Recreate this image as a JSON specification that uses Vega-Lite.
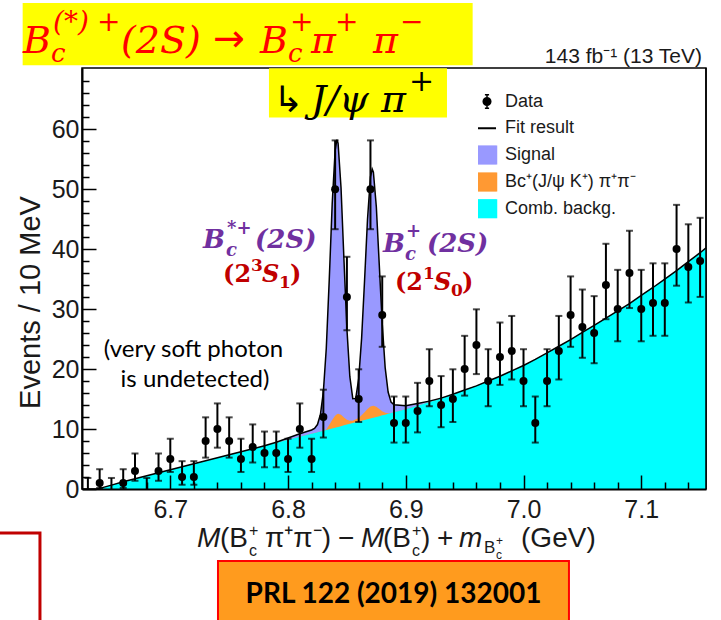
{
  "$schema": "https://vega.github.io/schema/vega-lite/v6.json",
  "width": 624,
  "height": 421,
  "autosize": "none",
  "padding": {"left": 82, "top": 68, "right": 15, "bottom": 131},
  "background": "white",
  "config": {"view": {"stroke": "black", "strokeWidth": 1.5}},
  "resolve": {"axis": {"x": "independent", "y": "independent"}},
  "datasets": {
    "pts": [
      {"m": 6.63, "n": 0, "lo": 0, "hi": 1.84},
      {"m": 6.64, "n": 1, "lo": 0.17, "hi": 3.30},
      {"m": 6.65, "n": 0, "lo": 0, "hi": 1.84},
      {"m": 6.66, "n": 1, "lo": 0.17, "hi": 3.30},
      {"m": 6.67, "n": 3, "lo": 1.37, "hi": 5.92},
      {"m": 6.68, "n": 0, "lo": 0, "hi": 1.84},
      {"m": 6.69, "n": 3, "lo": 1.37, "hi": 5.92},
      {"m": 6.70, "n": 5, "lo": 2.84, "hi": 8.38},
      {"m": 6.71, "n": 2, "lo": 0.71, "hi": 4.64},
      {"m": 6.72, "n": 2, "lo": 0.71, "hi": 4.64},
      {"m": 6.73, "n": 8, "lo": 5.23, "hi": 11.95},
      {"m": 6.74, "n": 10, "lo": 6.89, "hi": 14.27},
      {"m": 6.75, "n": 8, "lo": 5.23, "hi": 11.95},
      {"m": 6.76, "n": 5, "lo": 2.84, "hi": 8.38},
      {"m": 6.77, "n": 7, "lo": 4.42, "hi": 10.77},
      {"m": 6.78, "n": 6, "lo": 3.62, "hi": 9.58},
      {"m": 6.79, "n": 6, "lo": 3.62, "hi": 9.58},
      {"m": 6.80, "n": 5, "lo": 2.84, "hi": 8.38},
      {"m": 6.81, "n": 10, "lo": 6.89, "hi": 14.27},
      {"m": 6.82, "n": 5, "lo": 2.84, "hi": 8.38},
      {"m": 6.83, "n": 12, "lo": 8.58, "hi": 16.56},
      {"m": 6.84, "n": 50, "lo": 43.32, "hi": 58.13},
      {"m": 6.85, "n": 32, "lo": 26.47, "hi": 38.72},
      {"m": 6.86, "n": 15, "lo": 11.17, "hi": 19.96},
      {"m": 6.87, "n": 50, "lo": 43.32, "hi": 58.13},
      {"m": 6.88, "n": 29, "lo": 23.71, "hi": 35.45},
      {"m": 6.89, "n": 11, "lo": 7.74, "hi": 15.42},
      {"m": 6.90, "n": 11, "lo": 7.74, "hi": 15.42},
      {"m": 6.91, "n": 13, "lo": 9.44, "hi": 17.70},
      {"m": 6.92, "n": 18, "lo": 13.80, "hi": 23.31},
      {"m": 6.93, "n": 14, "lo": 10.30, "hi": 18.83},
      {"m": 6.94, "n": 15, "lo": 11.17, "hi": 19.96},
      {"m": 6.95, "n": 20, "lo": 15.57, "hi": 25.54},
      {"m": 6.96, "n": 24, "lo": 19.16, "hi": 29.96},
      {"m": 6.97, "n": 18, "lo": 13.80, "hi": 23.31},
      {"m": 6.98, "n": 22, "lo": 17.36, "hi": 27.76},
      {"m": 6.99, "n": 23, "lo": 18.26, "hi": 28.86},
      {"m": 7.00, "n": 18, "lo": 13.80, "hi": 23.31},
      {"m": 7.01, "n": 11, "lo": 7.74, "hi": 15.42},
      {"m": 7.02, "n": 18, "lo": 13.80, "hi": 23.31},
      {"m": 7.03, "n": 23, "lo": 18.26, "hi": 28.86},
      {"m": 7.04, "n": 29, "lo": 23.71, "hi": 35.45},
      {"m": 7.05, "n": 27, "lo": 21.88, "hi": 33.26},
      {"m": 7.06, "n": 26, "lo": 20.97, "hi": 32.16},
      {"m": 7.07, "n": 34, "lo": 28.31, "hi": 40.89},
      {"m": 7.08, "n": 30, "lo": 24.63, "hi": 36.54},
      {"m": 7.09, "n": 36, "lo": 30.17, "hi": 43.06},
      {"m": 7.10, "n": 30, "lo": 24.63, "hi": 36.54},
      {"m": 7.11, "n": 31, "lo": 25.55, "hi": 37.63},
      {"m": 7.12, "n": 31, "lo": 25.55, "hi": 37.63},
      {"m": 7.13, "n": 40, "lo": 33.90, "hi": 47.38},
      {"m": 7.14, "n": 37, "lo": 31.10, "hi": 44.14},
      {"m": 7.15, "n": 38, "lo": 32.03, "hi": 45.22}
    ],
    "fit": [
      {"m": 6.638, "bkg": 0, "bo": 0, "tot": 0},
      {"m": 6.64, "bkg": 0.1, "bo": 0.1, "tot": 0.1},
      {"m": 6.65, "bkg": 0.65, "bo": 0.65, "tot": 0.65},
      {"m": 6.66, "bkg": 1.2, "bo": 1.2, "tot": 1.2},
      {"m": 6.67, "bkg": 1.7, "bo": 1.7, "tot": 1.7},
      {"m": 6.68, "bkg": 2.2, "bo": 2.2, "tot": 2.2},
      {"m": 6.69, "bkg": 2.7, "bo": 2.7, "tot": 2.7},
      {"m": 6.70, "bkg": 3.2, "bo": 3.2, "tot": 3.2},
      {"m": 6.71, "bkg": 3.7, "bo": 3.7, "tot": 3.7},
      {"m": 6.72, "bkg": 4.2, "bo": 4.2, "tot": 4.2},
      {"m": 6.73, "bkg": 4.7, "bo": 4.7, "tot": 4.7},
      {"m": 6.74, "bkg": 5.2, "bo": 5.2, "tot": 5.2},
      {"m": 6.75, "bkg": 5.7, "bo": 5.7, "tot": 5.7},
      {"m": 6.76, "bkg": 6.2, "bo": 6.2, "tot": 6.2},
      {"m": 6.77, "bkg": 6.7, "bo": 6.7, "tot": 6.7},
      {"m": 6.78, "bkg": 7.2, "bo": 7.2, "tot": 7.2},
      {"m": 6.79, "bkg": 7.7, "bo": 7.7, "tot": 7.8},
      {"m": 6.80, "bkg": 8.2, "bo": 8.2, "tot": 8.5},
      {"m": 6.81, "bkg": 8.7, "bo": 8.7, "tot": 9.2},
      {"m": 6.8200, "bkg": 9.20, "bo": 9.20, "tot": 9.84},
      {"m": 6.8225, "bkg": 9.33, "bo": 9.33, "tot": 10.11},
      {"m": 6.8250, "bkg": 9.46, "bo": 9.46, "tot": 10.75},
      {"m": 6.8275, "bkg": 9.58, "bo": 9.58, "tot": 12.42},
      {"m": 6.8300, "bkg": 9.71, "bo": 9.71, "tot": 16.2},
      {"m": 6.8325, "bkg": 9.84, "bo": 9.94, "tot": 23.51},
      {"m": 6.8350, "bkg": 9.97, "bo": 10.67, "tot": 34.87},
      {"m": 6.8375, "bkg": 10.10, "bo": 11.50, "tot": 47.5},
      {"m": 6.8400, "bkg": 10.23, "bo": 12.23, "tot": 56.43},
      {"m": 6.8415, "bkg": 10.30, "bo": 12.45, "tot": 58.25},
      {"m": 6.8425, "bkg": 10.35, "bo": 12.55, "tot": 57.65},
      {"m": 6.8450, "bkg": 10.48, "bo": 12.38, "tot": 50.28},
      {"m": 6.8475, "bkg": 10.61, "bo": 11.91, "tot": 38.21},
      {"m": 6.8500, "bkg": 10.74, "bo": 11.54, "tot": 26.7},
      {"m": 6.8525, "bkg": 10.87, "bo": 11.37, "tot": 18.73},
      {"m": 6.8550, "bkg": 11.00, "bo": 11.40, "tot": 15.07},
      {"m": 6.8575, "bkg": 11.12, "bo": 11.62, "tot": 15.11},
      {"m": 6.8600, "bkg": 11.25, "bo": 11.85, "tot": 18.36},
      {"m": 6.8625, "bkg": 11.38, "bo": 12.28, "tot": 25.16},
      {"m": 6.8650, "bkg": 11.51, "bo": 12.81, "tot": 34.77},
      {"m": 6.8675, "bkg": 11.64, "bo": 13.34, "tot": 44.98},
      {"m": 6.8700, "bkg": 11.76, "bo": 13.76, "tot": 52.04},
      {"m": 6.8715, "bkg": 11.84, "bo": 13.84, "tot": 53.34},
      {"m": 6.8725, "bkg": 11.89, "bo": 13.89, "tot": 52.84},
      {"m": 6.8750, "bkg": 12.02, "bo": 13.72, "tot": 47.02},
      {"m": 6.8775, "bkg": 12.15, "bo": 13.35, "tot": 37.33},
      {"m": 6.8800, "bkg": 12.28, "bo": 12.98, "tot": 27.56},
      {"m": 6.8825, "bkg": 12.40, "bo": 12.70, "tot": 20.25},
      {"m": 6.8850, "bkg": 12.53, "bo": 12.63, "tot": 16.17},
      {"m": 6.8875, "bkg": 12.66, "bo": 12.66, "tot": 14.49},
      {"m": 6.8900, "bkg": 12.79, "bo": 12.79, "tot": 14.03},
      {"m": 6.90, "bkg": 13.3, "bo": 13.3, "tot": 13.9},
      {"m": 6.91, "bkg": 13.9, "bo": 13.9, "tot": 14.25},
      {"m": 6.92, "bkg": 14.5, "bo": 14.5, "tot": 14.65},
      {"m": 6.93, "bkg": 15.1, "bo": 15.1, "tot": 15.15},
      {"m": 6.94, "bkg": 15.8, "bo": 15.8, "tot": 15.8},
      {"m": 6.95, "bkg": 16.5, "bo": 16.5, "tot": 16.5},
      {"m": 6.96, "bkg": 17.2, "bo": 17.2, "tot": 17.2},
      {"m": 6.97, "bkg": 18.0, "bo": 18.0, "tot": 18.0},
      {"m": 6.98, "bkg": 18.8, "bo": 18.8, "tot": 18.8},
      {"m": 6.99, "bkg": 19.7, "bo": 19.7, "tot": 19.7},
      {"m": 7.00, "bkg": 20.6, "bo": 20.6, "tot": 20.6},
      {"m": 7.01, "bkg": 21.6, "bo": 21.6, "tot": 21.6},
      {"m": 7.02, "bkg": 22.7, "bo": 22.7, "tot": 22.7},
      {"m": 7.03, "bkg": 23.8, "bo": 23.8, "tot": 23.8},
      {"m": 7.04, "bkg": 24.9, "bo": 24.9, "tot": 24.9},
      {"m": 7.05, "bkg": 26.1, "bo": 26.1, "tot": 26.1},
      {"m": 7.06, "bkg": 27.3, "bo": 27.3, "tot": 27.3},
      {"m": 7.07, "bkg": 28.5, "bo": 28.5, "tot": 28.5},
      {"m": 7.08, "bkg": 29.7, "bo": 29.7, "tot": 29.7},
      {"m": 7.09, "bkg": 30.9, "bo": 30.9, "tot": 30.9},
      {"m": 7.10, "bkg": 32.3, "bo": 32.3, "tot": 32.3},
      {"m": 7.11, "bkg": 33.6, "bo": 33.6, "tot": 33.6},
      {"m": 7.12, "bkg": 35.0, "bo": 35.0, "tot": 35.0},
      {"m": 7.13, "bkg": 36.4, "bo": 36.4, "tot": 36.4},
      {"m": 7.14, "bkg": 37.9, "bo": 37.9, "tot": 37.9},
      {"m": 7.15, "bkg": 39.4, "bo": 39.4, "tot": 39.4},
      {"m": 7.155, "bkg": 40.2, "bo": 40.2, "tot": 40.2}
    ]
  },
  "data": {"values": [{}]},
  "layer": [
    {
      "data": {"name": "fit"},
      "mark": {"type": "area", "color": "#9999ff"},
      "encoding": {
        "x": {
          "field": "m", "type": "quantitative",
          "scale": {"domain": [6.625, 7.155], "nice": false, "zero": false},
          "axis": {
            "orient": "bottom", "offset": 0, "zindex": 1,
            "title": null,
            "values": [6.7, 6.8, 6.9, 7.0, 7.1], "format": ".1f",
            "tickSize": -14, "tickColor": "black", "tickWidth": 1.5,
            "domainColor": "black", "domainWidth": 2,
            "labelFont": "Liberation Sans", "labelFontSize": 25, "labelColor": "#1a1a1a",
            "labelPadding": 22, "labelOverlap": false, "labelFlush": false,
            "grid": false
          }
        },
        "y": {
          "field": "tot", "type": "quantitative",
          "scale": {"domain": [0, 70.2], "nice": false},
          "axis": {
            "orient": "left", "offset": 0, "zindex": 1,
            "values": [0, 10, 20, 30, 40, 50, 60],
            "tickSize": -14, "tickColor": "black", "tickWidth": 1.5,
            "domainColor": "black", "domainWidth": 2,
            "labelFont": "Liberation Sans", "labelFontSize": 25, "labelColor": "#1a1a1a",
            "labelPadding": 17, "labelOverlap": false, "labelFlush": false,
            "grid": false,
            "title": "Events / 10 MeV",
            "titleFont": "Liberation Sans", "titleFontSize": 29, "titleFontWeight": "normal", "titleColor": "#1a1a1a",
            "titleAngle": -90, "titleX": -52, "titleY": 234, "titleAlign": "center", "titleBaseline": "middle"
          }
        },
        "color": {
          "datum": "Signal", "type": "nominal",
          "scale": {
            "domain": ["Data", "Fit result", "Signal", "Bc⁺(J/ψ K⁺) π⁺π⁻", "Comb. backg."],
            "range": ["black", "black", "#9999ff", "#ff9933", "#00ffff"]
          },
          "legend": {
            "orient": "none", "legendX": 396, "legendY": 24, "padding": 0,
            "title": null, "direction": "vertical",
            "labelFont": "Liberation Sans", "labelFontSize": 18, "labelColor": "#1a1a1a", "labelLimit": 300,
            "symbolSize": 361, "rowPadding": 7.8, "clipHeight": 19, "labelOffset": 9,
            "encode": {
              "symbols": {
                "update": {
                  "shape": {"signal": "datum.value === 'Data' ? 'M0,-0.7V0.7M-0.22,-0.7H0.22M-0.22,0.7H0.22M0.4,0A0.4,0.4,0,1,1,-0.4,0A0.4,0.4,0,1,1,0.4,0Z' : datum.value === 'Fit result' ? 'M-0.95,0H0.95' : 'square'"},
                  "fill": {"signal": "datum.value === 'Data' ? 'black' : datum.value === 'Fit result' ? 'transparent' : datum.value === 'Signal' ? '#9999ff' : datum.value === 'Comb. backg.' ? '#00ffff' : '#ff9933'"},
                  "stroke": {"signal": "datum.value === 'Data' || datum.value === 'Fit result' ? 'black' : 'transparent'"},
                  "strokeWidth": {"signal": "datum.value === 'Fit result' ? 2 : 1.5"},
                  "opacity": {"value": 1}, "fillOpacity": {"value": 1}, "strokeOpacity": {"value": 1}
                }
              }
            }
          }
        }
      }
    },
    {
      "data": {"name": "fit"},
      "mark": {"type": "area"},
      "encoding": {
        "x": {
          "field": "m", "type": "quantitative",
          "axis": {
            "orient": "bottom", "offset": 0, "zindex": 1, "title": null,
            "values": [6.64, 6.66, 6.68, 6.72, 6.74, 6.76, 6.78, 6.82, 6.84, 6.86, 6.88, 6.92, 6.94, 6.96, 6.98, 7.02, 7.04, 7.06, 7.08, 7.12, 7.14],
            "labels": false, "domain": false, "grid": false,
            "tickSize": -7, "tickColor": "black", "tickWidth": 1.5
          }
        },
        "y": {
          "field": "bo", "type": "quantitative",
          "axis": {
            "orient": "left", "offset": 0, "zindex": 1, "title": null,
            "values": [2, 4, 6, 8, 12, 14, 16, 18, 22, 24, 26, 28, 32, 34, 36, 38, 42, 44, 46, 48, 52, 54, 56, 58, 62, 64, 66, 68],
            "labels": false, "domain": false, "grid": false,
            "tickSize": -7, "tickColor": "black", "tickWidth": 1.5
          }
        },
        "color": {"datum": "Bc⁺(J/ψ K⁺) π⁺π⁻", "type": "nominal"}
      }
    },
    {
      "data": {"name": "fit"},
      "mark": {"type": "area"},
      "encoding": {
        "x": {"field": "m", "type": "quantitative", "axis": null},
        "y": {"field": "bkg", "type": "quantitative", "axis": null},
        "color": {"datum": "Comb. backg.", "type": "nominal"}
      }
    },
    {
      "data": {"name": "fit"},
      "mark": {"type": "line", "strokeWidth": 1.5},
      "encoding": {
        "x": {"field": "m", "type": "quantitative", "axis": null},
        "y": {"field": "tot", "type": "quantitative", "axis": null},
        "color": {"datum": "Fit result", "type": "nominal"}
      }
    },
    {
      "mark": {"type": "rule", "color": "black", "strokeWidth": 1.5},
      "encoding": {"x": {"datum": 7.155, "axis": null}, "y": {"datum": 0, "axis": null}, "y2": {"datum": 70.2}}
    },
    {
      "data": {"name": "pts"},
      "mark": {"type": "rule", "color": "black", "strokeWidth": 2},
      "encoding": {
        "x": {"field": "m", "type": "quantitative", "axis": null},
        "y": {"field": "lo", "type": "quantitative", "axis": null},
        "y2": {"field": "hi"}
      }
    },
    {
      "data": {"name": "pts"},
      "mark": {"type": "tick", "orient": "horizontal", "color": "black", "size": 7, "thickness": 2},
      "encoding": {
        "x": {"field": "m", "type": "quantitative", "axis": null},
        "y": {"field": "hi", "type": "quantitative", "axis": null}
      }
    },
    {
      "data": {"name": "pts"},
      "transform": [{"filter": "datum.lo > 0"}],
      "mark": {"type": "tick", "orient": "horizontal", "color": "black", "size": 7, "thickness": 2},
      "encoding": {
        "x": {"field": "m", "type": "quantitative", "axis": null},
        "y": {"field": "lo", "type": "quantitative", "axis": null}
      }
    },
    {
      "data": {"name": "pts"},
      "transform": [{"filter": "datum.n > 0"}],
      "mark": {"type": "point", "filled": true, "size": 64, "opacity": 1, "shape": "circle"},
      "encoding": {
        "x": {"field": "m", "type": "quantitative", "axis": null},
        "y": {"field": "n", "type": "quantitative", "axis": null},
        "color": {"datum": "Data", "type": "nominal"}
      }
    },
    {
      "mark": {"type": "rect", "color": "#ffff00"},
      "encoding": {"x": {"datum": 6.5746, "axis": null}, "x2": {"datum": 6.9568}, "y": {"datum": 81.05, "axis": null}, "y2": {"datum": 70.67}}
    },
    {
      "mark": {"type": "rect", "color": "#ffff00"},
      "encoding": {"x": {"datum": 6.7838, "axis": null}, "x2": {"datum": 6.935}, "y": {"datum": 70.17, "axis": null}, "y2": {"datum": 61.95}}
    },
    {
      "mark": {"type": "rect", "fill": "#ff9b1e", "stroke": "#ff0000", "strokeWidth": 2},
      "encoding": {"x": {"datum": 6.7405, "axis": null}, "x2": {"datum": 7.0386}, "y": {"datum": -12.0, "axis": null}, "y2": {"datum": -22.7}}
    },
    {
      "mark": {"type": "rect", "fill": "white", "stroke": "#c00000", "strokeWidth": 3},
      "encoding": {"x": {"datum": 6.54, "axis": null}, "x2": {"datum": 6.5893}, "y": {"datum": -7.33, "axis": null}, "y2": {"datum": -22.7}}
    },

    {"mark": {"type": "text", "text": "B", "font": "DejaVu Serif", "fontSize": 38, "fontStyle": "italic", "color": "#ff0000", "align": "left", "baseline": "alphabetic", "dx": 0}, "encoding": {"x": {"datum": 6.5749, "axis": null}, "y": {"datum": 72.62, "axis": null}}},
    {"mark": {"type": "text", "text": "(*)", "font": "DejaVu Serif", "fontSize": 28, "fontStyle": "italic", "color": "#ff0000", "align": "left", "baseline": "alphabetic", "dx": 30, "dy": -22}, "encoding": {"x": {"datum": 6.5749, "axis": null}, "y": {"datum": 72.62, "axis": null}}},
    {"mark": {"type": "text", "text": "+", "font": "DejaVu Serif", "fontSize": 28, "fontStyle": "italic", "color": "#ff0000", "align": "left", "baseline": "alphabetic", "dx": 74, "dy": -22}, "encoding": {"x": {"datum": 6.5749, "axis": null}, "y": {"datum": 72.62, "axis": null}}},
    {"mark": {"type": "text", "text": "c", "font": "DejaVu Serif", "fontSize": 26, "fontStyle": "italic", "color": "#ff0000", "align": "left", "baseline": "alphabetic", "dx": 28, "dy": 9}, "encoding": {"x": {"datum": 6.5749, "axis": null}, "y": {"datum": 72.62, "axis": null}}},
    {"mark": {"type": "text", "text": "(2S)", "font": "DejaVu Serif", "fontSize": 38, "fontStyle": "italic", "color": "#ff0000", "align": "left", "baseline": "alphabetic", "dx": 98}, "encoding": {"x": {"datum": 6.5749, "axis": null}, "y": {"datum": 72.62, "axis": null}}},
    {"mark": {"type": "text", "text": "→", "font": "DejaVu Sans", "fontSize": 38, "color": "#ff0000", "align": "left", "baseline": "alphabetic", "dx": 190, "dy": -2}, "encoding": {"x": {"datum": 6.5749, "axis": null}, "y": {"datum": 72.62, "axis": null}}},
    {"mark": {"type": "text", "text": "B", "font": "DejaVu Serif", "fontSize": 38, "fontStyle": "italic", "color": "#ff0000", "align": "left", "baseline": "alphabetic", "dx": 237}, "encoding": {"x": {"datum": 6.5749, "axis": null}, "y": {"datum": 72.62, "axis": null}}},
    {"mark": {"type": "text", "text": "+", "font": "DejaVu Serif", "fontSize": 28, "fontStyle": "italic", "color": "#ff0000", "align": "left", "baseline": "alphabetic", "dx": 267, "dy": -22}, "encoding": {"x": {"datum": 6.5749, "axis": null}, "y": {"datum": 72.62, "axis": null}}},
    {"mark": {"type": "text", "text": "c", "font": "DejaVu Serif", "fontSize": 26, "fontStyle": "italic", "color": "#ff0000", "align": "left", "baseline": "alphabetic", "dx": 265, "dy": 9}, "encoding": {"x": {"datum": 6.5749, "axis": null}, "y": {"datum": 72.62, "axis": null}}},
    {"mark": {"type": "text", "text": "π", "font": "DejaVu Serif", "fontSize": 38, "fontStyle": "italic", "color": "#ff0000", "align": "left", "baseline": "alphabetic", "dx": 288}, "encoding": {"x": {"datum": 6.5749, "axis": null}, "y": {"datum": 72.62, "axis": null}}},
    {"mark": {"type": "text", "text": "+", "font": "DejaVu Serif", "fontSize": 28, "fontStyle": "italic", "color": "#ff0000", "align": "left", "baseline": "alphabetic", "dx": 312, "dy": -22}, "encoding": {"x": {"datum": 6.5749, "axis": null}, "y": {"datum": 72.62, "axis": null}}},
    {"mark": {"type": "text", "text": "π", "font": "DejaVu Serif", "fontSize": 38, "fontStyle": "italic", "color": "#ff0000", "align": "left", "baseline": "alphabetic", "dx": 350}, "encoding": {"x": {"datum": 6.5749, "axis": null}, "y": {"datum": 72.62, "axis": null}}},
    {"mark": {"type": "text", "text": "−", "font": "DejaVu Serif", "fontSize": 28, "fontStyle": "italic", "color": "#ff0000", "align": "left", "baseline": "alphabetic", "dx": 377, "dy": -22}, "encoding": {"x": {"datum": 6.5749, "axis": null}, "y": {"datum": 72.62, "axis": null}}},

    {"mark": {"type": "text", "text": "↳", "font": "DejaVu Sans", "fontSize": 36, "color": "black", "align": "left", "baseline": "alphabetic", "dx": 0}, "encoding": {"x": {"datum": 6.7872, "axis": null}, "y": {"datum": 62.88, "axis": null}}},
    {"mark": {"type": "text", "text": "J/ψ π", "font": "DejaVu Serif", "fontSize": 38, "fontStyle": "italic", "color": "black", "align": "left", "baseline": "alphabetic", "dx": 38}, "encoding": {"x": {"datum": 6.7872, "axis": null}, "y": {"datum": 62.88, "axis": null}}},
    {"mark": {"type": "text", "text": "+", "font": "DejaVu Serif", "fontSize": 30, "fontStyle": "italic", "color": "black", "align": "left", "baseline": "alphabetic", "dx": 136, "dy": -21}, "encoding": {"x": {"datum": 6.7872, "axis": null}, "y": {"datum": 62.88, "axis": null}}},

    {"mark": {"type": "text", "text": "B", "font": "DejaVu Serif", "fontSize": 26, "fontStyle": "italic", "fontWeight": "bold", "color": "#7030a0", "align": "left", "baseline": "alphabetic", "dx": 0}, "encoding": {"x": {"datum": 6.7278, "axis": null}, "y": {"datum": 40.17, "axis": null}}},
    {"mark": {"type": "text", "text": "*+", "font": "DejaVu Serif", "fontSize": 18, "fontStyle": "italic", "fontWeight": "bold", "color": "#7030a0", "align": "left", "baseline": "alphabetic", "dx": 24, "dy": -14}, "encoding": {"x": {"datum": 6.7278, "axis": null}, "y": {"datum": 40.17, "axis": null}}},
    {"mark": {"type": "text", "text": "c", "font": "DejaVu Serif", "fontSize": 18, "fontStyle": "italic", "fontWeight": "bold", "color": "#7030a0", "align": "left", "baseline": "alphabetic", "dx": 23, "dy": 8}, "encoding": {"x": {"datum": 6.7278, "axis": null}, "y": {"datum": 40.17, "axis": null}}},
    {"mark": {"type": "text", "text": "(2S)", "font": "DejaVu Serif", "fontSize": 26, "fontStyle": "italic", "fontWeight": "bold", "color": "#7030a0", "align": "left", "baseline": "alphabetic", "dx": 52}, "encoding": {"x": {"datum": 6.7278, "axis": null}, "y": {"datum": 40.17, "axis": null}}},
    {"mark": {"type": "text", "text": "(2", "font": "DejaVu Serif", "fontSize": 24, "fontWeight": "bold", "color": "#c00000", "align": "left", "baseline": "alphabetic", "dx": 0}, "encoding": {"x": {"datum": 6.7448, "axis": null}, "y": {"datum": 34.5, "axis": null}}},
    {"mark": {"type": "text", "text": "3", "font": "DejaVu Serif", "fontSize": 17, "fontWeight": "bold", "color": "#c00000", "align": "left", "baseline": "alphabetic", "dx": 28, "dy": -11}, "encoding": {"x": {"datum": 6.7448, "axis": null}, "y": {"datum": 34.5, "axis": null}}},
    {"mark": {"type": "text", "text": "S", "font": "DejaVu Serif", "fontSize": 24, "fontStyle": "italic", "fontWeight": "bold", "color": "#c00000", "align": "left", "baseline": "alphabetic", "dx": 39}, "encoding": {"x": {"datum": 6.7448, "axis": null}, "y": {"datum": 34.5, "axis": null}}},
    {"mark": {"type": "text", "text": "1", "font": "DejaVu Serif", "fontSize": 17, "fontWeight": "bold", "color": "#c00000", "align": "left", "baseline": "alphabetic", "dx": 56, "dy": 6}, "encoding": {"x": {"datum": 6.7448, "axis": null}, "y": {"datum": 34.5, "axis": null}}},
    {"mark": {"type": "text", "text": ")", "font": "DejaVu Serif", "fontSize": 24, "fontWeight": "bold", "color": "#c00000", "align": "left", "baseline": "alphabetic", "dx": 67}, "encoding": {"x": {"datum": 6.7448, "axis": null}, "y": {"datum": 34.5, "axis": null}}},

    {"mark": {"type": "text", "text": "B", "font": "DejaVu Serif", "fontSize": 26, "fontStyle": "italic", "fontWeight": "bold", "color": "#7030a0", "align": "left", "baseline": "alphabetic", "dx": 0}, "encoding": {"x": {"datum": 6.8806, "axis": null}, "y": {"datum": 39.5, "axis": null}}},
    {"mark": {"type": "text", "text": "+", "font": "DejaVu Serif", "fontSize": 18, "fontStyle": "italic", "fontWeight": "bold", "color": "#7030a0", "align": "left", "baseline": "alphabetic", "dx": 23, "dy": -15}, "encoding": {"x": {"datum": 6.8806, "axis": null}, "y": {"datum": 39.5, "axis": null}}},
    {"mark": {"type": "text", "text": "c", "font": "DejaVu Serif", "fontSize": 18, "fontStyle": "italic", "fontWeight": "bold", "color": "#7030a0", "align": "left", "baseline": "alphabetic", "dx": 22, "dy": 8}, "encoding": {"x": {"datum": 6.8806, "axis": null}, "y": {"datum": 39.5, "axis": null}}},
    {"mark": {"type": "text", "text": "(2S)", "font": "DejaVu Serif", "fontSize": 26, "fontStyle": "italic", "fontWeight": "bold", "color": "#7030a0", "align": "left", "baseline": "alphabetic", "dx": 44}, "encoding": {"x": {"datum": 6.8806, "axis": null}, "y": {"datum": 39.5, "axis": null}}},
    {"mark": {"type": "text", "text": "(2", "font": "DejaVu Serif", "fontSize": 24, "fontWeight": "bold", "color": "#c00000", "align": "left", "baseline": "alphabetic", "dx": 0}, "encoding": {"x": {"datum": 6.8908, "axis": null}, "y": {"datum": 33.17, "axis": null}}},
    {"mark": {"type": "text", "text": "1", "font": "DejaVu Serif", "fontSize": 17, "fontWeight": "bold", "color": "#c00000", "align": "left", "baseline": "alphabetic", "dx": 28, "dy": -11}, "encoding": {"x": {"datum": 6.8908, "axis": null}, "y": {"datum": 33.17, "axis": null}}},
    {"mark": {"type": "text", "text": "S", "font": "DejaVu Serif", "fontSize": 24, "fontStyle": "italic", "fontWeight": "bold", "color": "#c00000", "align": "left", "baseline": "alphabetic", "dx": 39}, "encoding": {"x": {"datum": 6.8908, "axis": null}, "y": {"datum": 33.17, "axis": null}}},
    {"mark": {"type": "text", "text": "0", "font": "DejaVu Serif", "fontSize": 17, "fontWeight": "bold", "color": "#c00000", "align": "left", "baseline": "alphabetic", "dx": 56, "dy": 6}, "encoding": {"x": {"datum": 6.8908, "axis": null}, "y": {"datum": 33.17, "axis": null}}},
    {"mark": {"type": "text", "text": ")", "font": "DejaVu Serif", "fontSize": 24, "fontWeight": "bold", "color": "#c00000", "align": "left", "baseline": "alphabetic", "dx": 67}, "encoding": {"x": {"datum": 6.8908, "axis": null}, "y": {"datum": 33.17, "axis": null}}},

    {"mark": {"type": "text", "text": "M", "font": "Liberation Sans", "fontSize": 28, "fontStyle": "italic", "color": "#1a1a1a", "align": "left", "baseline": "alphabetic", "dx": 0}, "encoding": {"x": {"datum": 6.7227, "axis": null}, "y": {"datum": -9.667, "axis": null}}},
    {"mark": {"type": "text", "text": "(B", "font": "Liberation Sans", "fontSize": 28, "color": "#1a1a1a", "align": "left", "baseline": "alphabetic", "dx": 23}, "encoding": {"x": {"datum": 6.7227, "axis": null}, "y": {"datum": -9.667, "axis": null}}},
    {"mark": {"type": "text", "text": "+", "font": "Liberation Sans", "fontSize": 16, "color": "#1a1a1a", "align": "left", "baseline": "alphabetic", "dx": 52, "dy": -11}, "encoding": {"x": {"datum": 6.7227, "axis": null}, "y": {"datum": -9.667, "axis": null}}},
    {"mark": {"type": "text", "text": "c", "font": "Liberation Sans", "fontSize": 16, "color": "#1a1a1a", "align": "left", "baseline": "alphabetic", "dx": 52, "dy": 9}, "encoding": {"x": {"datum": 6.7227, "axis": null}, "y": {"datum": -9.667, "axis": null}}},
    {"mark": {"type": "text", "text": "π⁺π⁻)", "font": "Liberation Sans", "fontSize": 28, "color": "#1a1a1a", "align": "left", "baseline": "alphabetic", "dx": 68}, "encoding": {"x": {"datum": 6.7227, "axis": null}, "y": {"datum": -9.667, "axis": null}}},
    {"mark": {"type": "text", "text": "−", "font": "Liberation Sans", "fontSize": 28, "color": "#1a1a1a", "align": "left", "baseline": "alphabetic", "dx": 141}, "encoding": {"x": {"datum": 6.7227, "axis": null}, "y": {"datum": -9.667, "axis": null}}},
    {"mark": {"type": "text", "text": "M", "font": "Liberation Sans", "fontSize": 28, "fontStyle": "italic", "color": "#1a1a1a", "align": "left", "baseline": "alphabetic", "dx": 164}, "encoding": {"x": {"datum": 6.7227, "axis": null}, "y": {"datum": -9.667, "axis": null}}},
    {"mark": {"type": "text", "text": "(B", "font": "Liberation Sans", "fontSize": 28, "color": "#1a1a1a", "align": "left", "baseline": "alphabetic", "dx": 186}, "encoding": {"x": {"datum": 6.7227, "axis": null}, "y": {"datum": -9.667, "axis": null}}},
    {"mark": {"type": "text", "text": "+", "font": "Liberation Sans", "fontSize": 16, "color": "#1a1a1a", "align": "left", "baseline": "alphabetic", "dx": 215, "dy": -11}, "encoding": {"x": {"datum": 6.7227, "axis": null}, "y": {"datum": -9.667, "axis": null}}},
    {"mark": {"type": "text", "text": "c", "font": "Liberation Sans", "fontSize": 16, "color": "#1a1a1a", "align": "left", "baseline": "alphabetic", "dx": 215, "dy": 9}, "encoding": {"x": {"datum": 6.7227, "axis": null}, "y": {"datum": -9.667, "axis": null}}},
    {"mark": {"type": "text", "text": ")", "font": "Liberation Sans", "fontSize": 28, "color": "#1a1a1a", "align": "left", "baseline": "alphabetic", "dx": 224}, "encoding": {"x": {"datum": 6.7227, "axis": null}, "y": {"datum": -9.667, "axis": null}}},
    {"mark": {"type": "text", "text": "+", "font": "Liberation Sans", "fontSize": 28, "color": "#1a1a1a", "align": "left", "baseline": "alphabetic", "dx": 240}, "encoding": {"x": {"datum": 6.7227, "axis": null}, "y": {"datum": -9.667, "axis": null}}},
    {"mark": {"type": "text", "text": "m", "font": "Liberation Sans", "fontSize": 28, "fontStyle": "italic", "color": "#1a1a1a", "align": "left", "baseline": "alphabetic", "dx": 262}, "encoding": {"x": {"datum": 6.7227, "axis": null}, "y": {"datum": -9.667, "axis": null}}},
    {"mark": {"type": "text", "text": "B", "font": "Liberation Sans", "fontSize": 17, "color": "#1a1a1a", "align": "left", "baseline": "alphabetic", "dx": 287, "dy": 6}, "encoding": {"x": {"datum": 6.7227, "axis": null}, "y": {"datum": -9.667, "axis": null}}},
    {"mark": {"type": "text", "text": "+", "font": "Liberation Sans", "fontSize": 12, "color": "#1a1a1a", "align": "left", "baseline": "alphabetic", "dx": 299, "dy": -2}, "encoding": {"x": {"datum": 6.7227, "axis": null}, "y": {"datum": -9.667, "axis": null}}},
    {"mark": {"type": "text", "text": "c", "font": "Liberation Sans", "fontSize": 12, "color": "#1a1a1a", "align": "left", "baseline": "alphabetic", "dx": 299, "dy": 12}, "encoding": {"x": {"datum": 6.7227, "axis": null}, "y": {"datum": -9.667, "axis": null}}},
    {"mark": {"type": "text", "text": "(GeV)", "font": "Liberation Sans", "fontSize": 28, "color": "#1a1a1a", "align": "left", "baseline": "alphabetic", "dx": 324}, "encoding": {"x": {"datum": 6.7227, "axis": null}, "y": {"datum": -9.667, "axis": null}}},

    {"mark": {"type": "text", "text": "(very soft photon", "font": "Lato", "fontSize": 24, "color": "black", "align": "center", "baseline": "alphabetic"}, "encoding": {"x": {"datum": 6.7197, "axis": null}, "y": {"datum": 22.0, "axis": null}}},
    {"mark": {"type": "text", "text": "is undetected)", "font": "Lato", "fontSize": 24, "color": "black", "align": "center", "baseline": "alphabetic"}, "encoding": {"x": {"datum": 6.721, "axis": null}, "y": {"datum": 17.0, "axis": null}}},
    {"mark": {"type": "text", "text": "143 fb⁻¹ (13 TeV)", "font": "Liberation Sans", "fontSize": 21, "color": "#1a1a1a", "align": "right", "baseline": "alphabetic"}, "encoding": {"x": {"datum": 7.1516, "axis": null}, "y": {"datum": 71.0, "axis": null}}},
    {"mark": {"type": "text", "text": "PRL 122 (2019) 132001", "font": "Lato", "fontSize": 28, "fontWeight": "bold", "color": "black", "align": "center", "baseline": "alphabetic"}, "encoding": {"x": {"datum": 6.8896, "axis": null}, "y": {"datum": -19.0, "axis": null}}}
  ]
}
